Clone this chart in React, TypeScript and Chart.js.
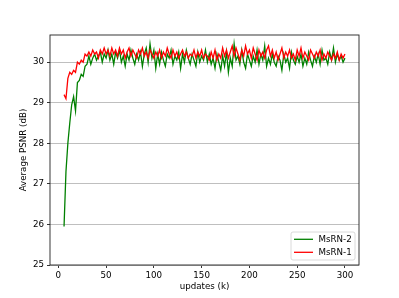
import React, { useEffect, useRef } from "react";
import { Chart, registerables } from "chart.js";

Chart.register(...registerables);

const updates = [
  6, 8, 10, 12, 14, 16, 18, 20, 22, 24, 26, 28, 30, 32, 34, 36, 38, 40, 42, 44,
  46, 48, 50, 52, 54, 56, 58, 60, 62, 64, 66, 68, 70, 72, 74, 76, 78, 80, 82, 84,
  86, 88, 90, 92, 94, 96, 98, 100, 102, 104, 106, 108, 110, 112, 114, 116, 118, 120, 122, 124,
  126, 128, 130, 132, 134, 136, 138, 140, 142, 144, 146, 148, 150, 152, 154, 156, 158, 160, 162, 164,
  166, 168, 170, 172, 174, 176, 178, 180, 182, 184, 186, 188, 190, 192, 194, 196, 198, 200, 202, 204,
  206, 208, 210, 212, 214, 216, 218, 220, 222, 224, 226, 228, 230, 232, 234, 236, 238, 240, 242, 244,
  246, 248, 250, 252, 254, 256, 258, 260, 262, 264, 266, 268, 270, 272, 274, 276, 278, 280, 282, 284,
  286, 288, 290, 292, 294, 296, 298, 300,
];

const msrn2 = [
  25.95, 27.3, 28.0, 28.5, 28.95, 29.15, 28.8, 29.5, 29.55, 29.7, 29.65, 29.9, 29.95, 30.15, 29.95, 30.1, 30.2, 30.05, 30.15, 30.25,
  30.0, 30.2, 30.1, 30.3, 30.05, 30.2, 29.95, 30.25, 30.1, 30.3, 30.0, 30.15, 29.9, 30.2, 30.05, 30.3, 30.1, 29.95, 30.2, 30.05,
  30.25, 29.9, 30.2, 30.35, 30.0, 30.45, 30.1, 30.3, 29.85, 30.2, 29.95, 30.25, 30.05, 29.9, 30.2, 30.1, 30.3, 29.95, 30.15, 30.05,
  30.25, 29.85, 30.2, 30.0, 30.3, 30.1, 29.95, 30.2, 30.05, 29.9, 30.25, 30.0, 30.15, 30.05, 30.3, 30.0, 30.2, 29.95, 30.1, 29.85,
  30.2, 30.0, 29.8, 30.15, 29.9, 30.25, 29.75, 30.1, 29.9, 30.45, 30.05, 30.15, 29.95, 30.3, 30.0, 29.85, 30.2, 30.05, 29.9, 30.15,
  30.0, 30.3, 29.95, 30.2, 30.05, 30.4, 29.9, 30.1, 29.95, 30.2, 30.0, 29.9, 30.15, 30.05, 29.8, 30.2, 30.0, 30.1, 29.85, 30.25,
  30.05, 29.95, 30.15, 30.0, 30.2, 29.9, 30.1, 29.95, 30.25, 30.05, 29.9, 30.15, 30.0, 30.2, 29.95, 30.3, 30.05, 30.1, 29.95, 30.25,
  30.05, 30.35, 30.0, 30.2, 30.05, 30.15, 30.0, 30.1,
];

const msrn1 = [
  29.2, 29.1, 29.6, 29.75, 29.7, 29.8, 29.75, 30.0, 29.95, 30.05, 30.0, 30.2, 30.15, 30.25, 30.15, 30.3, 30.2, 30.25, 30.1, 30.3,
  30.2, 30.35, 30.2, 30.3, 30.15, 30.35, 30.2, 30.3, 30.15, 30.35, 30.2, 30.3, 30.1, 30.25, 30.35, 30.15, 30.3, 30.2, 30.1, 30.3,
  30.2, 30.35, 30.15, 30.25, 30.1, 30.3, 30.2, 30.1, 30.25, 30.15, 30.3, 30.1, 30.25, 30.15, 30.35, 30.2, 30.1, 30.3, 30.15, 30.25,
  30.1, 30.2, 30.3, 30.15, 30.25, 30.1, 30.2, 30.15, 30.3, 30.1, 30.25, 30.15, 30.3, 30.1, 30.2, 30.15, 30.05, 30.25, 30.1, 30.3,
  30.05, 30.2, 30.1, 30.35, 30.15, 30.3, 30.1, 30.25, 30.4, 30.15, 30.35, 30.2, 30.05, 30.3, 30.15, 30.4, 30.2, 30.3, 30.1, 30.35,
  30.2, 30.05, 30.3, 30.15, 30.25, 30.1, 30.3, 30.4, 30.15, 30.3, 30.1, 30.25, 30.05, 30.2, 30.35, 30.1, 30.25, 30.15, 30.3, 30.1,
  30.2, 30.05, 30.3, 30.15, 30.35, 30.1, 30.25, 30.15, 30.05, 30.3, 30.2, 30.1, 30.25, 30.15, 30.3, 30.05, 30.2, 30.1, 30.25, 30.15,
  30.05, 30.2, 30.1, 30.25, 30.05, 30.2, 30.1, 30.2,
];

const xTicks = [0, 50, 100, 150, 200, 250, 300];
const yTicks = [25, 26, 27, 28, 29, 30];
const seriesNames = ["MsRN-2", "MsRN-1"];
const seriesColors = ["#008000", "#ff0000"];
const xTitle = "updates (k)";
const yTitle = "Average PSNR (dB)";

const FONT = "DejaVu Sans";
const FS = 8.7;

export default function App() {
  const ref = useRef<HTMLCanvasElement>(null);

  useEffect(() => {
    document.body.style.margin = "0";
    const canvas = ref.current;
    if (!canvas) return;

    const framePlugin = {
      id: "framePlugin",
      afterDraw(chart: any) {
        const { ctx, chartArea } = chart;
        const { left, right, top, bottom } = chartArea;
        ctx.save();
        // frame
        ctx.strokeStyle = "#222";
        ctx.lineWidth = 0.9;
        ctx.strokeRect(left, top, right - left, bottom - top);
        // axis titles
        ctx.fillStyle = "#000";
        ctx.font = `${FS}px '${FONT}'`;
        ctx.textAlign = "center";
        ctx.textBaseline = "middle";
        ctx.fillText(xTitle, (left + right) / 2, 287);
        ctx.save();
        ctx.translate(24, (top + bottom) / 2);
        ctx.rotate(-Math.PI / 2);
        ctx.fillText(yTitle, 0, 0);
        ctx.restore();
        // legend
        const lx = 291, ly = 232, lw = 64, lh = 28, r = 2;
        ctx.beginPath();
        ctx.moveTo(lx + r, ly);
        ctx.lineTo(lx + lw - r, ly);
        ctx.quadraticCurveTo(lx + lw, ly, lx + lw, ly + r);
        ctx.lineTo(lx + lw, ly + lh - r);
        ctx.quadraticCurveTo(lx + lw, ly + lh, lx + lw - r, ly + lh);
        ctx.lineTo(lx + r, ly + lh);
        ctx.quadraticCurveTo(lx, ly + lh, lx, ly + lh - r);
        ctx.lineTo(lx, ly + r);
        ctx.quadraticCurveTo(lx, ly, lx + r, ly);
        ctx.closePath();
        ctx.fillStyle = "rgba(255,255,255,0.8)";
        ctx.fill();
        ctx.strokeStyle = "#d0d0d0";
        ctx.lineWidth = 0.8;
        ctx.stroke();
        ctx.textAlign = "left";
        seriesNames.forEach((name, i) => {
          const yy = 239.3 + i * 13;
          ctx.strokeStyle = seriesColors[i];
          ctx.lineWidth = 1.3;
          ctx.beginPath();
          ctx.moveTo(294, yy);
          ctx.lineTo(313, yy);
          ctx.stroke();
          ctx.fillStyle = "#000";
          ctx.fillText(name, 318.5, yy);
        });
        ctx.restore();
      },
    };

    const chart = new Chart(canvas, {
      type: "line",
      data: {
        datasets: [
          {
            label: seriesNames[1],
            data: updates.map((u, i) => ({ x: u, y: msrn1[i] })),
            borderColor: seriesColors[1],
            borderWidth: 1.3,
            pointRadius: 0,
            tension: 0,
            fill: false,
          },
          {
            label: seriesNames[0],
            data: updates.map((u, i) => ({ x: u, y: msrn2[i] })),
            borderColor: seriesColors[0],
            borderWidth: 1.3,
            pointRadius: 0,
            tension: 0,
            fill: false,
          },
        ],
      },
      options: {
        responsive: false,
        animation: false,
        devicePixelRatio: 1,
        layout: { padding: { top: 35, right: 40, left: 0, bottom: 0 } },
        plugins: {
          legend: { display: false },
          tooltip: { enabled: false },
        },
        scales: {
          x: {
            type: "linear",
            min: -8.7,
            max: 314.7,
            afterBuildTicks: (s: any) => {
              s.ticks = xTicks.map((v) => ({ value: v }));
            },
            afterFit: (s: any) => {
              s.height = 33;
            },
            grid: {
              drawOnChartArea: false,
              drawTicks: true,
              tickLength: 3,
              tickColor: "#000",
              tickWidth: 0.8,
            },
            border: { display: false },
            ticks: {
              color: "#000",
              font: { family: FONT, size: FS },
              padding: 3,
              maxRotation: 0,
              autoSkip: false,
            },
          },
          y: {
            type: "linear",
            min: 25,
            max: 30.67,
            afterBuildTicks: (s: any) => {
              s.ticks = yTicks.map((v) => ({ value: v }));
            },
            afterFit: (s: any) => {
              s.width = 50;
            },
            grid: {
              color: "#b8b8b8",
              lineWidth: 0.9,
              drawTicks: true,
              tickLength: 3,
              tickColor: "#000",
              tickWidth: 0.8,
            },
            border: { display: false },
            ticks: {
              color: "#000",
              font: { family: FONT, size: FS },
              padding: 3,
              autoSkip: false,
            },
          },
        },
      },
      plugins: [framePlugin],
    } as any);

    return () => chart.destroy();
  }, []);

  return (
    <div style={{ width: 399, height: 298, background: "#fff" }}>
      <canvas ref={ref} width={399} height={298} />
    </div>
  );
}
